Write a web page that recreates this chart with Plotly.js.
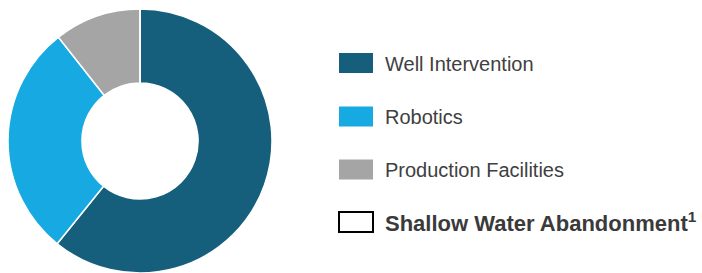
<!DOCTYPE html>
<html><head><meta charset="utf-8">
<script src="https://cdn.plot.ly/plotly-3.0.1.min.js"></script>
<style>html,body{margin:0;padding:0;background:#fff}#c{width:702px;height:273px}</style>
</head><body><div id="c"></div>
<script>
const categories = ["Well Intervention", "Robotics", "Production Facilities", "Shallow Water Abandonment"];
const values = [60.8, 28.6, 10.6, 0];
const legendLabels = ["Well Intervention", "Robotics", "Production Facilities", "<b>Shallow Water Abandonment<sup>1</sup></b>"];
const colors = ["#155E7C", "#17A9E2", "#A5A5A5", "#FFFFFF"];

const W = 702, H = 273;
const px = x => x / W, py = y => 1 - y / H;
const shapes = [], annotations = [];
const rowY = [63, 116.5, 169.5, 222];
categories.forEach((c, i) => {
  const last = i === categories.length - 1;
  shapes.push({type: "rect", xref: "paper", yref: "paper",
    x0: px(339), x1: px(373), y0: py(rowY[i] - 10), y1: py(rowY[i] + 10),
    fillcolor: colors[i], line: {color: last ? "#000000" : colors[i], width: last ? 2 : 0}});
  annotations.push({xref: "paper", yref: "paper", x: px(383), y: py(rowY[i] + (last ? 0 : 0.5)),
    xanchor: "left", yanchor: "middle", showarrow: false, text: legendLabels[i],
    font: {family: "Liberation Sans, Arial, sans-serif", size: last ? 22 : 20, color: last ? "#3A3A3A" : "#404040"}});
});

Plotly.newPlot("c", [{
  type: "pie", labels: categories, values: values, hole: 0.44, sort: false,
  direction: "clockwise", rotation: 0, textinfo: "none", hoverinfo: "none",
  marker: {colors: colors, line: {color: "#FFFFFF", width: 1.5}},
  domain: {x: [px(8), px(272)], y: [py(273), py(9)]}
}], {
  width: W, height: H, margin: {l: 0, r: 0, t: 0, b: 0}, showlegend: false,
  paper_bgcolor: "#fff", shapes: shapes, annotations: annotations
}, {staticPlot: true});
</script></body></html>
